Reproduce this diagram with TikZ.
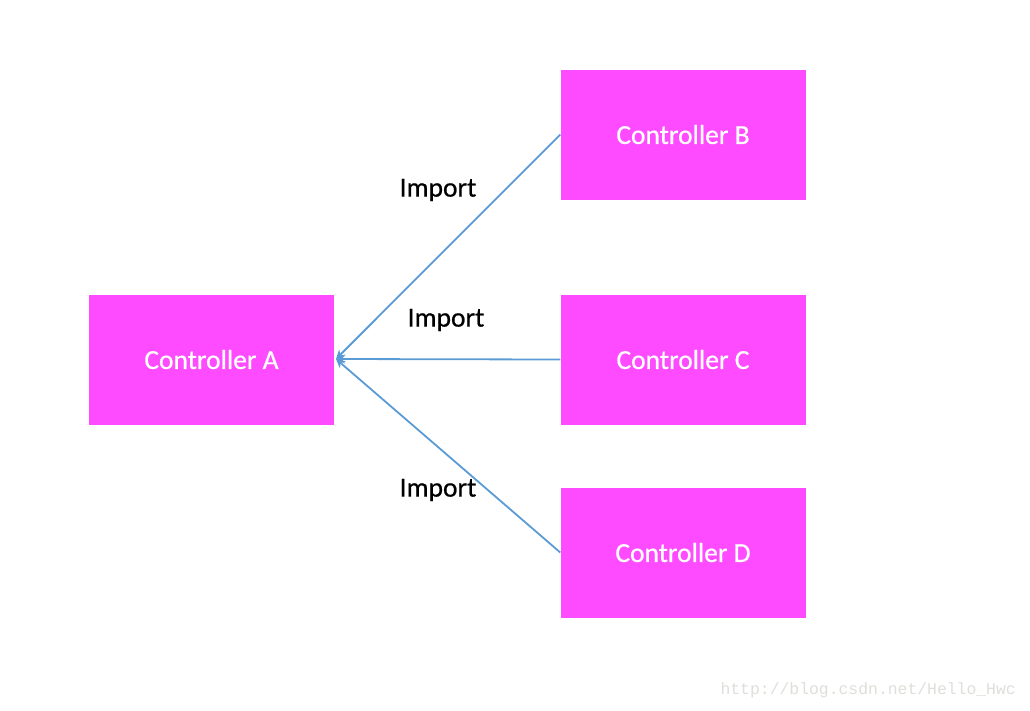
\documentclass[tikz,border=0pt]{standalone}
\usepackage{fontspec}
\setmainfont{Carlito}[FakeBold=0.6]
\newfontfamily\wmfont{Liberation Mono}
\usetikzlibrary{arrows.meta}
\definecolor{boxmag}{HTML}{FF4BFF}
\definecolor{linkblue}{HTML}{5B9BD5}
\definecolor{wmgray}{HTML}{DEDEDA}
\tikzset{
  ctrl/.style={fill=boxmag, draw=none, minimum width=245pt, minimum height=130pt, inner sep=0pt, text=white, font=\fontsize{27.5}{32}\selectfont},
  link/.style={draw=linkblue, line width=1.8pt, -{Stealth[length=9pt,width=9pt]}},
  lbl/.style={font=\fontsize{27.5}{32}\selectfont, text=black, inner sep=0pt}
}
\begin{document}
\begin{tikzpicture}[x=1pt,y=-1pt]
\useasboundingbox (0,0) rectangle (1030,710);
\node[ctrl] (A) at (211.5,359.5) {Controller A};
\node[ctrl] (B) at (683,134.5) {Controller B};
\node[ctrl] (C) at (683,359.5) {Controller C};
\node[ctrl] (D) at (683,552.5) {Controller D};
\coordinate (tip) at (336,359);
\draw[link] (B.west) -- (tip);
\draw[link] (C.west) -- (tip);
\draw[link] (D.west) -- (tip);
\node[lbl] (l1) at (438,190) {Import};
\node[lbl] (l2) at (446,320) {Import};
\node[lbl] (l3) at (438,490) {Import};
\node[font=\wmfont\fontsize{16.4}{18}\selectfont, text=wmgray, anchor=east, inner sep=0pt] (wm) at (1016,690) {http://blog.csdn.net/Hello\_Hwc};
\end{tikzpicture}
\end{document}
